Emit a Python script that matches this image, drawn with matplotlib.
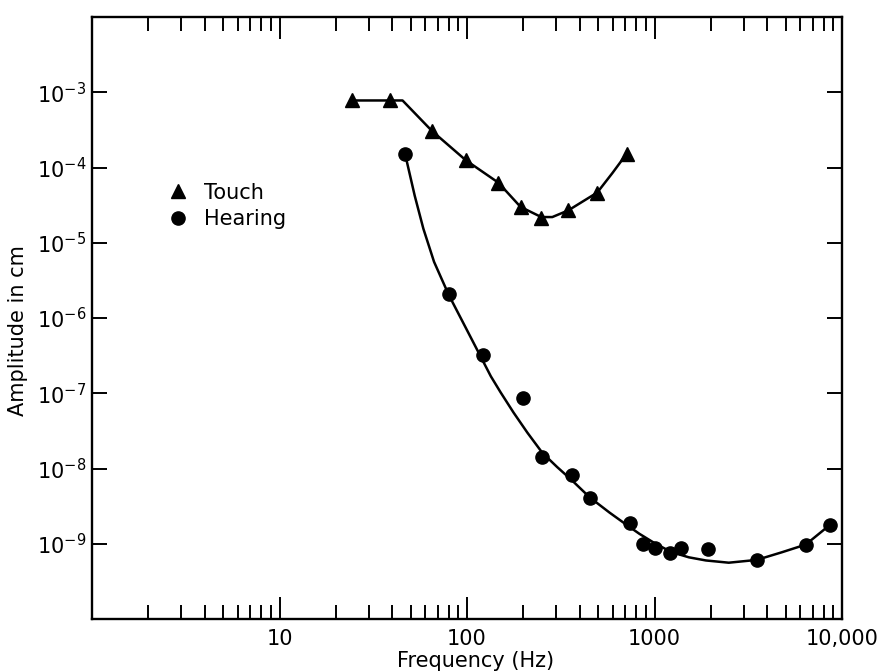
import matplotlib as mpl
mpl.use('Agg')
import matplotlib.pyplot as plt
import matplotlib.ticker as mticker
import numpy as np

touch_freq = [24.5, 39, 65, 98.6, 147, 193, 249, 347, 495, 709]
touch_amp = [7.9e-4, 7.8e-4, 3.07e-4, 1.25e-4, 6.3e-5, 3.0e-5, 2.14e-5, 2.7e-5, 4.66e-5, 1.52e-4]

hearing_freq = [46.7, 80, 122, 198, 252, 362, 451, 744, 869, 1007, 1211, 1385, 1928, 3505, 6400, 8610]
hearing_amp = [1.53e-4, 2.09e-6, 3.2e-7, 8.7e-8, 1.43e-8, 8.2e-9, 4.0e-9, 1.9e-9, 1.0e-9, 8.8e-10,
               7.5e-10, 8.7e-10, 8.6e-10, 6.1e-10, 9.7e-10, 1.78e-9]

# hand-drawn fitted curves
touch_curve_freq = [24.5, 45.3, 65, 98.6, 147, 193, 249, 285, 347, 495, 597, 709]
touch_curve_amp = [7.8e-4, 7.8e-4, 3.07e-4, 1.25e-4, 6.3e-5, 3.0e-5, 2.2e-5, 2.2e-5, 2.7e-5, 4.66e-5, 8.5e-5, 1.52e-4]

hearing_curve_freq = [46.7, 52.6, 58.5, 66.7, 79.9, 99.3, 134, 151, 177, 210, 252, 302, 362, 451,
                      575, 708, 829, 1020, 1240, 1526, 1878, 2489, 3508, 4770, 6403, 8610]
hearing_curve_amp = [1.53e-4, 4.23e-5, 1.54e-5, 5.59e-6, 2.03e-6, 7.13e-7, 1.68e-7, 1.03e-7, 5.55e-8,
                     2.99e-8, 1.62e-8, 1.05e-8, 7.0e-9, 4.14e-9, 2.6e-9, 1.79e-9, 1.36e-9, 9.9e-10,
                     7.7e-10, 6.6e-10, 6.0e-10, 5.6e-10, 6.1e-10, 7.7e-10, 9.75e-10, 1.78e-9]

x_ticks = [10, 100, 1000, 10000]
x_labels = ['10', '100', '1000', '10,000']
y_ticks = [1e-9, 1e-8, 1e-7, 1e-6, 1e-5, 1e-4, 1e-3]
y_labels = [r'$10^{-9}$', r'$10^{-8}$', r'$10^{-7}$', r'$10^{-6}$', r'$10^{-5}$', r'$10^{-4}$', r'$10^{-3}$']

plt.rcParams['font.family'] = ['DejaVu Sans']
plt.rcParams['mathtext.default'] = 'regular'

fig = plt.figure(figsize=(8.9, 6.71), dpi=100)
ax = fig.add_axes([0.1034, 0.0775, 0.8427, 0.897])
ax.set_xscale('log')
ax.set_yscale('log')

ax.plot(touch_curve_freq, touch_curve_amp, color='black', lw=1.8)
ax.plot(hearing_curve_freq, hearing_curve_amp, color='black', lw=1.8)
ax.plot(touch_freq, touch_amp, '^', color='black', ms=10, label='Touch')
ax.plot(hearing_freq, hearing_amp, 'o', color='black', ms=9.5, label='Hearing')

ax.set_xlim(1, 1e4)
ax.set_ylim(1e-10, 1e-2)

ax.xaxis.set_major_locator(mticker.FixedLocator(x_ticks))
ax.xaxis.set_major_formatter(mticker.FixedFormatter(x_labels))
ax.xaxis.set_minor_locator(mticker.LogLocator(base=10, subs=np.arange(2, 10), numticks=20))
ax.xaxis.set_minor_formatter(mticker.NullFormatter())
ax.yaxis.set_major_locator(mticker.FixedLocator(y_ticks))
ax.yaxis.set_major_formatter(mticker.FixedFormatter(y_labels))
ax.yaxis.set_minor_locator(mticker.NullLocator())

ax.tick_params(axis='x', which='major', direction='in', length=16, width=1.4,
               top=True, pad=7, labelsize=15)
ax.tick_params(axis='x', which='minor', direction='in', length=10, width=1.4, top=True)
ax.tick_params(axis='y', which='major', direction='in', length=11, width=1.4,
               right=True, pad=4, labelsize=15)
for sp in ax.spines.values():
    sp.set_linewidth(1.7)

ax.set_xlabel('Frequency (Hz)', fontsize=15)
ax.set_ylabel('Amplitude in cm', fontsize=15)
ax.xaxis.set_label_coords(0.512, -0.053)
ax.yaxis.set_label_coords(-0.085, 0.48)

ax.legend(loc='upper left', bbox_to_anchor=(0.101, 0.725), frameon=False, fontsize=15,
          handlelength=1, handletextpad=0.75, labelspacing=0.3, borderpad=0, borderaxespad=0)

plt.savefig('out.png', dpi=100)
plt.close('all')
